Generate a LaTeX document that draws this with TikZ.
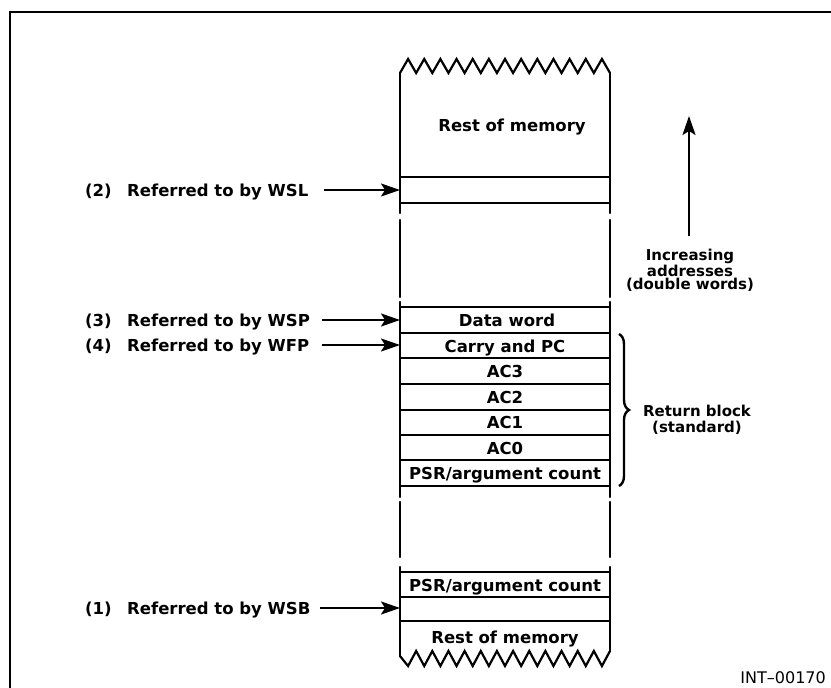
\documentclass[tikz,border=0pt]{standalone}
\usepackage{fontspec}
\setmainfont{DejaVu Sans}
\usetikzlibrary{arrows.meta,decorations.pathreplacing}
\begin{document}
\begin{tikzpicture}[x=1pt,y=-1pt,
  cell/.style={font=\fontsize{16.5}{18}\selectfont\bfseries, inner sep=0pt,
               text height=12pt, text depth=0pt},
  lbl/.style={cell, anchor=west},
  note/.style={font=\fontsize{15}{13.5}\selectfont\bfseries, inner sep=0pt, align=center},
  wall/.style={line width=2.2pt, line cap=round},
  rule/.style={line width=2pt},
  ptr/.style={line width=2.2pt, -{Stealth[length=19pt,width=13pt,inset=4pt]}},
]
\useasboundingbox (0,0) rectangle (831,688);

% outer frame (top and left edges)
\draw[line width=2.8pt] (10,688) -- (10,12) -- (831,12);

% memory column: broken top edge
\draw[wall, line join=miter] (400,73)
  \foreach \i in {1,...,13} { -- ({400+(\i-0.5)*210/13},59) -- ({400+\i*210/13},73) };

% memory column: broken bottom edge
\draw[wall, line join=miter] (400,656)
  \foreach \i in {1,...,13} { -- ({400+(\i-0.5)*210/13},666) -- ({400+\i*210/13},651) };

% side walls, interrupted where the column is elided
\foreach \a/\b in {73/213, 220/297, 302/497, 502/557, 567/656} {
  \draw[wall] (400,\a) -- (400,\b);
}
\foreach \a/\b in {73/213, 220/297, 302/497, 502/557, 567/651} {
  \draw[wall] (610,\a) -- (610,\b);
}

% word boundaries
\foreach \y in {177, 203, 307, 333, 358, 384, 410, 435, 460, 486, 572, 597, 621} {
  \draw[rule] (400,\y) -- (610,\y);
}

% cell contents
\node[cell] (restTop)  at (512,125) {Rest of memory};
\node[cell] (dataword) at (507,320) {Data word};
\node[cell] (carrypc)  at (505,346) {Carry and PC};
\node[cell] (acthree)  at (505,371) {AC3};
\node[cell] (actwo)    at (505,397) {AC2};
\node[cell] (acone)    at (505,422.5) {AC1};
\node[cell] (aczero)   at (505,448) {AC0};
\node[cell] (psrA)     at (505,473) {PSR/argument count};
\node[cell] (psrB)     at (505,585) {PSR/argument count};
\node[cell] (restBot)  at (505,637) {Rest of memory};

% pointer labels
\node[lbl] (numtwo)   at (85,190) {(2)};
\node[lbl] (txttwo)   at (127,190) {Referred to by WSL};
\node[lbl] (numthree) at (85,320) {(3)};
\node[lbl] (txtthree) at (127,320) {Referred to by WSP};
\node[lbl] (numfour)  at (85,345) {(4)};
\node[lbl] (txtfour)  at (127,345) {Referred to by WFP};
\node[lbl] (numone)   at (85,608) {(1)};
\node[lbl] (txtone)   at (127,608) {Referred to by WSB};

% pointer arrows
\coordinate (tailtwo)   at (324,190);  \coordinate (headtwo)   at (400,190);
\coordinate (tailthree) at (322,320);  \coordinate (headthree) at (400,320);
\coordinate (tailfour)  at (322,345);  \coordinate (headfour)  at (400,345);
\coordinate (tailone)   at (320,608);  \coordinate (headone)   at (400,608);
\draw[ptr] (tailtwo) -- (headtwo);
\draw[ptr] (tailthree) -- (headthree);
\draw[ptr] (tailfour) -- (headfour);
\draw[ptr] (tailone) -- (headone);

% address direction
\coordinate (upfoot) at (689,236);
\coordinate (uphead) at (689,116);
\draw[ptr] (upfoot) -- (uphead);
\node[note, anchor=north] (incr) at (690,249) {Increasing\\addresses\\(double words)};

% return block brace
\draw[line width=2.4pt, decorate, decoration={brace, amplitude=10pt}] (619,334) -- (619,486);
\node[note, font=\fontsize{15}{15.5}\selectfont\bfseries] (retblk) at (697,420) {Return block\\(standard)};

% figure tag
\node[font=\fontsize{16}{18}\selectfont, inner sep=0pt, anchor=east, text height=11.5pt, text depth=0pt] (tag) at (826,678) {INT–00170};
\end{tikzpicture}
\end{document}
